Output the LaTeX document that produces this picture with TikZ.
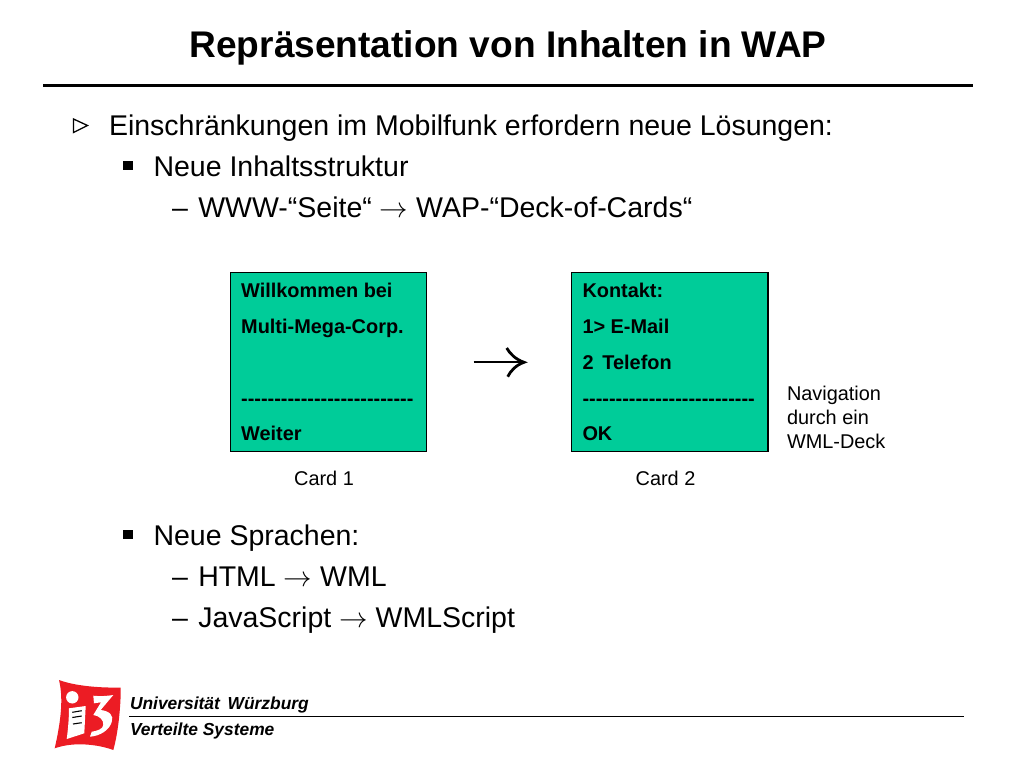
\RequirePackage{fix-cm}
\documentclass[tikz,border=0pt]{standalone}
\usepackage{fontspec}
\setmainfont{Liberation Sans}
\definecolor{cardgreen}{RGB}{0,204,153}
\definecolor{logored}{RGB}{236,28,36}
\newcommand{\fs}[1]{\fontsize{#1}{#1}\selectfont}
\newcommand{\ra}{$\rightarrow$}
\newcommand{\dashrow}{-{}-{}-{}-{}-{}-{}-{}-{}-{}-{}-{}-{}-{}-{}-{}-{}-{}-{}-{}-{}-{}-{}-{}-{}-{}-}
\newcommand{\itemdash}{–\hspace{2.5pt} }
\tikzset{
  txt/.style={anchor=base west,inner sep=0pt,outer sep=0pt},
  bodytext/.style={txt,font=\fs{28.5}},
  cardtext/.style={txt,font=\fs{19.9}\bfseries},
  smalltext/.style={txt,font=\fs{19.9}},
  captiontext/.style={anchor=base,inner sep=0pt,font=\fs{19.9}},
  footertext/.style={txt,font=\fs{17.4}\bfseries\itshape},
  cardbox/.style={draw=black,line width=1.3pt,fill=cardgreen,inner sep=0pt,outer sep=0pt,minimum width=196.4pt,minimum height=179pt,anchor=north west},
  rule/.style={draw=black,line width=3pt}
}
\begin{document}
\begin{tikzpicture}[x=1pt,y=-1pt]
\useasboundingbox (0,0) rectangle (1024,768);
\fill[white] (0,0) rectangle (1024,768);
% title
\node[anchor=base,inner sep=0pt,font=\fs{37.1}\bfseries] (title) at (508,57) {Repräsentation von Inhalten in WAP};
\coordinate (ruleL) at (43,85.5);
\coordinate (ruleR) at (973,85.5);
\draw[rule] (ruleL) -- (ruleR);
% bullets
\draw[black,line width=1.3pt,line join=miter] (73.5,119) -- (87.5,125.5) -- (73.5,132.5) -- cycle;
\fill[black] (123.3,161) rectangle (132.5,170);
\fill[black] (123.3,530) rectangle (132.5,539);
\node[bodytext] (l1) at (109,135) {Einschränkungen im Mobilfunk erfordern neue Lösungen:};
\node[bodytext] (l2) at (153.5,176) {Neue Inhaltsstruktur};
\node[bodytext] (l3) at (172,217) {\itemdash WWW-“Seite“ \ra{} WAP-“Deck-of-Cards“};
\node[bodytext] (l4) at (153.5,545) {Neue Sprachen:};
\node[bodytext] (l5) at (172,586) {\itemdash HTML \ra{} WML};
\node[bodytext] (l6) at (172,627) {\itemdash JavaScript \ra{} WMLScript};
% cards
\node[cardbox] (card1) at (230.3,272.7) {};
\node[cardbox] (card2) at (571.6,272.7) {};
\node[cardtext] (c1a) at (241.2,297) {Willkommen bei};
\node[cardtext] (c1b) at (241.2,333) {Multi-Mega-Corp.};
\node[cardtext] (c1c) at (241.2,405) {\dashrow};
\node[cardtext] (c1d) at (241.2,440) {Weiter};
\node[cardtext] (c2a) at (582.5,297) {Kontakt:};
\node[cardtext] (c2b) at (582.5,333) {1> E-Mail};
\node[cardtext] (c2c) at (582.5,369) {2\, Telefon};
\node[cardtext] (c2d) at (582.5,405) {\dashrow};
\node[cardtext] (c2e) at (582.5,440) {OK};
\node[captiontext] (cap1) at (324,485) {Card 1};
\node[captiontext] (cap2) at (665.5,485) {Card 2};
% big arrow between the cards
\coordinate (arrowtail) at (473.5,362.3);
\coordinate (arrowtip) at (524,362.3);
\draw[black,line width=2.2pt] (arrowtail) -- (arrowtip);
\draw[black,line width=2.8pt,line join=miter] (506.7,348) .. controls (510,354) and (516,359.5) .. (arrowtip)
  .. controls (516,365) and (510.5,371) .. (507.7,376.7);
\node[smalltext] (n1) at (787,400) {Navigation};
\node[smalltext] (n2) at (787,424) {durch ein};
\node[smalltext] (n3) at (787,448) {WML-Deck};
% footer
\node[footertext] (f1) at (130,709.5) {Universität\, Würzburg};
\node[footertext] (f2) at (130,735) {Verteilte Systeme};
\coordinate (frL) at (129,716.5);
\coordinate (frR) at (964,716.5);
\draw[black,line width=1.2pt] (frL) -- (frR);
% logo
\fill[logored] (59,680) .. controls (75,686) and (100,688) .. (120.7,687.5)
  .. controls (121,700) and (119,730) .. (113.3,750)
  .. controls (100,745) and (75,741) .. (54.7,748.3)
  .. controls (60,725) and (64,700) .. (59,680) -- cycle;
\fill[white] (72.3,697.3) circle (6.2);
\fill[white] (69,708.3) -- (85.7,706) -- (84.3,733.3) -- (66.7,739) .. controls (68,730) and (69,718) .. (69,708.3) -- cycle;
\draw[black,line width=1.1pt] (72.3,712.3) -- (81.7,710.7);
\draw[black,line width=1.1pt] (72.3,717.5) -- (81.7,716);
\draw[black,line width=1.1pt] (73,724) -- (81.7,722.7);
\fill[white] (93.3,695.7) .. controls (100,696.5) and (107,696) .. (113.3,695)
  -- (100.7,710) .. controls (110,711) and (114,716) .. (111.7,722)
  .. controls (109.5,730) and (100,736) .. (90,736.7)
  -- (91.7,731.7) .. controls (97,731) and (103,729) .. (103.3,725)
  .. controls (104,720) and (99,715.5) .. (93.3,715)
  -- (101,702.3) -- (94,703.3) -- cycle;
\end{tikzpicture}
\end{document}
